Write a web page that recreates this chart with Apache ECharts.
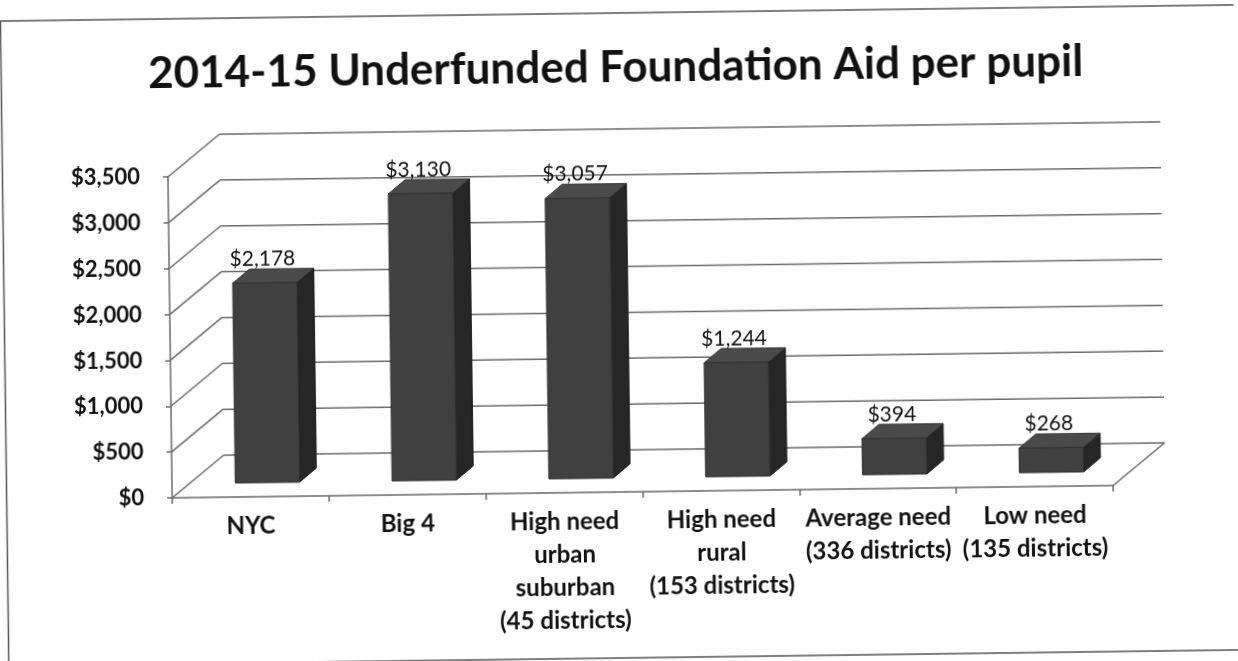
<!DOCTYPE html>
<html><head><meta charset="utf-8">
<script src="https://cdn.jsdelivr.net/npm/echarts@6/dist/echarts.min.js"></script>
<style>
html,body{margin:0;padding:0;background:#fff;overflow:hidden;width:1238px;height:661px}
#c{width:1238px;height:661px;transform:rotate(-0.75deg);transform-origin:619px 330px}
</style>
</head><body><div id="c"></div>
<script>
const titleText = '2014-15 Underfunded Foundation Aid per pupil';
const categories = ['NYC', 'Big 4', 'High need\nurban\nsuburban\n(45 districts)', 'High need\nrural\n(153 districts)', 'Average need\n(336 districts)', 'Low need\n(135 districts)'];
const values = [2178, 3130, 3057, 1244, 394, 268];
const yTicks = [0, 500, 1000, 1500, 2000, 2500, 3000, 3500];

// 3D geometry (pixels)
const DX = 52, DY = -42;   // full depth of the floor / back wall
const FX = 17, FY = -14;   // bar front plane offset
const BX = 17, BY = -14;   // bar depth
const LINE = '#6a6a6a';
const FONT = 'Lato';

const fmt = v => '$' + v.toLocaleString('en-US');

const chart = echarts.init(document.getElementById('c'), null, {renderer: 'canvas'});

function wallItem(params, api) {
  const v = api.value(1);
  const p = api.coord([0, v]);
  const band = api.size([1, 0])[0];
  const left = p[0] - band / 2;
  const right = left + band * categories.length;
  const y = p[1];
  const style = {stroke: LINE, lineWidth: 1.5, fill: null};
  const children = [
    {type: 'line', shape: {x1: left, y1: y, x2: left + DX, y2: y + DY}, style},
    {type: 'line', shape: {x1: left + DX, y1: y + DY, x2: right + DX, y2: y + DY}, style}
  ];
  if (v === 0) {
    children.push({type: 'line', shape: {x1: right, y1: y, x2: right + DX, y2: y + DY}, style});
  }
  return {type: 'group', children};
}

function barItem(params, api) {
  const i = api.value(0), v = api.value(1);
  const base = api.coord([i, 0]);
  const top = api.coord([i, v]);
  const band = api.size([1, 0])[0];
  const w = band * 0.41;
  const L = base[0] - w / 2 + FX, R = L + w;
  const B = base[1] + FY, T = top[1] + FY;
  return {
    type: 'group',
    children: [
      {type: 'polygon', shape: {points: [[R, T], [R + BX, T + BY], [R + BX, B + BY], [R, B]]},
        style: {fill: '#262626', stroke: '#1a1a1a', lineWidth: 1}},
      {type: 'polygon', shape: {points: [[L, T], [R, T], [R + BX, T + BY], [L + BX, T + BY]]},
        style: {fill: '#4a4a4a', stroke: '#333', lineWidth: 1}},
      {type: 'rect', shape: {x: L, y: T, width: w, height: B - T},
        style: {fill: '#404040', stroke: '#333', lineWidth: 1}},
      {type: 'text', x: base[0] + FX - 2, y: T + BY - 10,
        style: {text: fmt(v), align: 'center', verticalAlign: 'middle',
          font: '21px ' + FONT, fill: '#111'}}
    ]
  };
}

chart.setOption({
  animation: false,
  backgroundColor: '#fff',
  title: {
    text: titleText, left: 'center', top: 41,
    textStyle: {fontFamily: FONT, fontWeight: 'bold', fontSize: 44, color: '#111'}
  },
  graphic: [{
    type: 'rect', shape: {x: 4.5, y: 13, width: 1300, height: 645},
    style: {fill: null, stroke: '#555', lineWidth: 1.5}, z: -10
  }],
  grid: {left: 170, top: 171, width: 941, height: 321},
  xAxis: {
    type: 'category', data: categories, boundaryGap: true,
    axisLine: {show: true, lineStyle: {color: LINE, width: 1.5}},
    axisTick: {show: true, length: 6, lineStyle: {color: LINE, width: 1.5}},
    axisLabel: {interval: 0, margin: 13, fontFamily: FONT, fontWeight: 'bold', fontSize: 24,
      lineHeight: 33, color: '#111', align: 'center'},
    splitLine: {show: false}
  },
  yAxis: {
    type: 'value', min: 0, max: 3500, interval: 500,
    axisLine: {show: true, lineStyle: {color: LINE, width: 1.5}},
    axisTick: {show: true, length: 5, lineStyle: {color: LINE, width: 1.5}},
    axisLabel: {margin: 28, fontFamily: FONT, fontWeight: 'bold', fontSize: 22, color: '#111',
      formatter: v => fmt(v)},
    splitLine: {show: false}
  },
  series: [
    {type: 'custom', name: 'wall', renderItem: wallItem, z: 1, silent: true,
      data: yTicks.map(v => [0, v]), encode: {x: 0, y: 1}},
    {type: 'custom', name: 'Underfunded Foundation Aid per pupil', renderItem: barItem, z: 3,
      data: values.map((v, i) => [i, v]), encode: {x: 0, y: 1}}
  ]
});
</script>
</body></html>
